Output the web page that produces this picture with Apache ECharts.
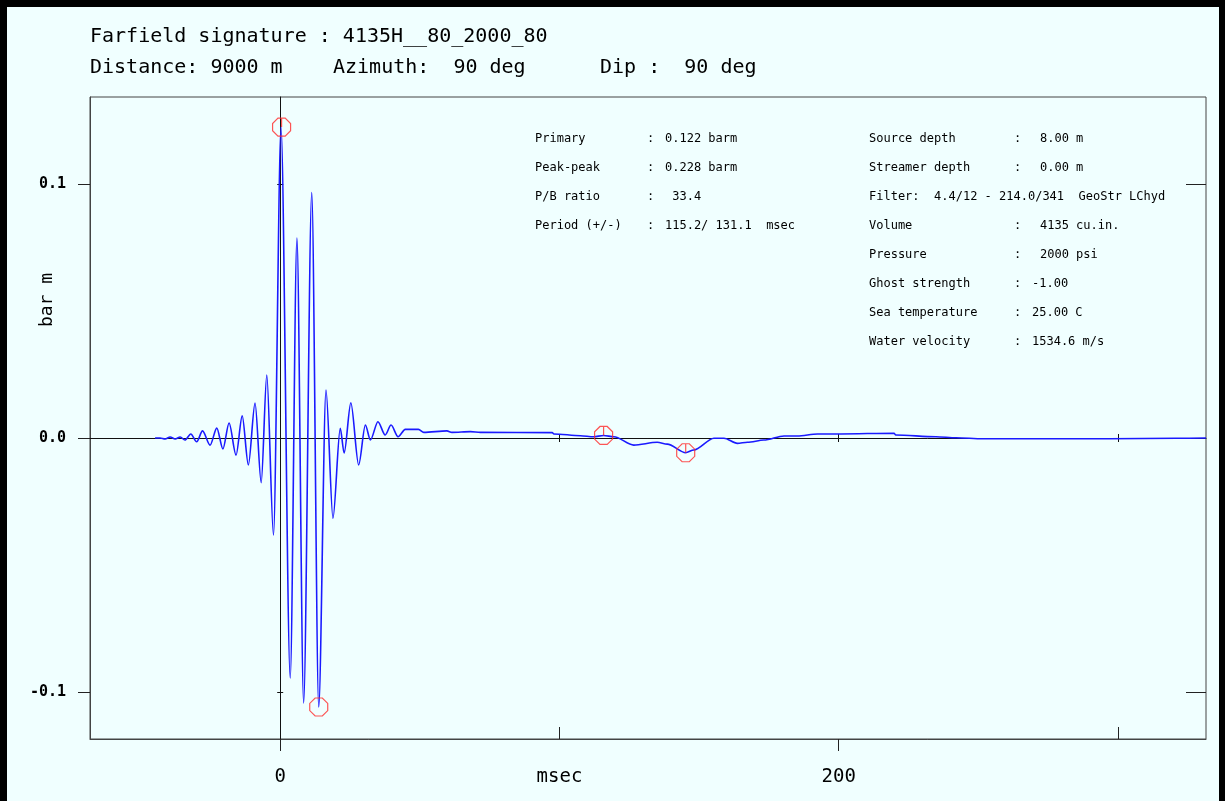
<!DOCTYPE html>
<html>
<head>
<meta charset="utf-8">
<script src="https://cdn.jsdelivr.net/npm/echarts@6/dist/echarts.min.js"></script>
<style>
  html, body { margin: 0; padding: 0; background: #F0FFFF; }
  #chart { width: 1225px; height: 801px; }
</style>
</head>
<body>
<div id="chart"></div>
<script>
// ---------------- DATA ----------------
const titleLine1 = 'Farfield signature : 4135H__80_2000_80';
const titleParts2 = ['Distance: 9000 m', 'Azimuth:  90 deg', 'Dip :  90 deg'];

// Waveform: time (msec) and amplitude (bar m)
const timeMs = [
  -44.8, -43.0, -41.2, -39.4, -37.6, -35.8, -34.1, -32.0, -29.9, -27.8,
  -25.1, -22.7, -20.5, -18.3, -15.8, -13.6, -11.4, -9.0, -6.8, -4.8,
  -2.4, 0.3, 3.6, 6.0, 8.4, 11.3, 13.8, 16.4, 18.9, 21.5,
  22.9, 25.3, 28.1, 30.5, 32.3, 35.0, 37.6, 39.7, 42.2, 44.8,
  49.5, 51.4, 59.7, 61.5, 68.1, 71.7, 97.4, 98.0, 107.5, 112.2,
  115.8, 119.5, 126.6, 135.0, 138.6, 145.2, 148.1, 155.3, 158.9, 163.7,
  167.3, 173.2, 180.4, 185.2, 192.4, 200.7, 219.8, 220.4, 234.8, 242.0,
  251.6, 269.9, 296.8, 320.8, 331.5
];
const amplitude = [
  0.0, 0.0, -0.0004, 0.0004, -0.0004, 0.0004, -0.0008, 0.0016, -0.0015, 0.0028,
  -0.0028, 0.0039, -0.0043, 0.0059, -0.0067, 0.0087, -0.0106, 0.0138, -0.0176, 0.0248,
  -0.0382, 0.1224, -0.0945, 0.0787, -0.1043, 0.0966, -0.1059, 0.0189, -0.0316, 0.0038,
  -0.0059, 0.0139, -0.0106, 0.0051, -0.0008, 0.0064, 0.0012, 0.0051, 0.0005, 0.0034,
  0.0034, 0.0022, 0.0028, 0.0022, 0.0025, 0.0022, 0.0021, 0.0016, 0.0009, 0.0005,
  0.0010, 0.0005, -0.0028, -0.0017, -0.0024, -0.0058, -0.0047, -0.0001, -0.0001, -0.0021,
  -0.0017, -0.0008, 0.0008, 0.0008, 0.0016, 0.0016, 0.0019, 0.0012, 0.0005, 0.0001,
  -0.0003, -0.0003, -0.0003, -0.0001, 0.0
];

// Red picked-point markers
const markerTimes  = [0.5, 13.8, 115.8, 145.2];
const markerValues = [0.1224, -0.1059, 0.0010, -0.0058];
const markerStem   = [true, false, true, true];

// Axis ranges & ticks
const X_MIN = -68.1, X_MAX = 331.5;
const Y_MIN = -0.1185, Y_MAX = 0.13425;
const xLabelValues = [0, 100, 200];
const xLabelTexts  = ['0', 'msec', '200'];
const xMajorTicks  = [0, 200];
const xMinorTicks  = [100, 300];
const zeroLineTicks = [100, 200, 300];
const yTickValues  = [-0.1, 0, 0.1];
const yTickLabels  = ['-0.1', '0.0', '0.1'];
const yRightTicks  = [-0.1, 0.1];
const yName = 'bar m';

// Info block
const leftInfoLabels = ['Primary', 'Peak-peak', 'P/B ratio', 'Period (+/-)'];
const leftInfoValues = ['0.122 barm', '0.228 barm', ' 33.4', '115.2/ 131.1  msec'];
const rightInfoLabels = ['Source depth', 'Streamer depth', 'Filter:  4.4/12 - 214.0/341  GeoStr LChyd',
  'Volume', 'Pressure', 'Ghost strength', 'Sea temperature', 'Water velocity'];
const rightInfoValues = ['8.00 m', '0.00 m', null, '4135 cu.in.', '2000 psi', '-1.00', '25.00 C', '1534.6 m/s'];

// ---------------- CHART ----------------
const chart = echarts.init(document.getElementById('chart'), null, { renderer: 'canvas' });

const MONO = '"DejaVu Sans Mono", "Liberation Mono", monospace';
const lineData = timeMs.map((t, i) => [t, amplitude[i]]);

const octStem = 'path://M3,0L7,0L10,3L10,7L7,10L3,10L0,7L0,3ZM5,0L5,5';
const oct = 'path://M3,0L7,0L10,3L10,7L7,10L3,10L0,7L0,3Z';
const markerData = markerTimes.map((t, i) => ({
  value: [t, markerValues[i]],
  symbol: markerStem[i] ? octStem : oct
}));

function txt(x, y, text, font, extra) {
  return Object.assign({
    type: 'text', x: x, y: y, silent: true,
    style: {
      text: text, font: font, fill: '#000',
      textAlign: 'left', textVerticalAlign: 'middle',
      align: 'left', verticalAlign: 'middle'
    }
  }, extra || {});
}

const graphics = [];
// outer black frame (left, top, right)
graphics.push({ type: 'rect', silent: true, z: 100, shape: { x: 0, y: 0, width: 7, height: 801 }, style: { fill: '#000' } });
graphics.push({ type: 'rect', silent: true, z: 100, shape: { x: 0, y: 0, width: 1225, height: 7 }, style: { fill: '#000' } });
graphics.push({ type: 'rect', silent: true, z: 100, shape: { x: 1219, y: 0, width: 6, height: 801 }, style: { fill: '#000' } });
// titles
const TITLE_FONT = '20px ' + MONO;
graphics.push(txt(90, 37, titleLine1, TITLE_FONT));
const titleX2 = [90, 333, 600];
titleParts2.forEach((s, i) => graphics.push(txt(titleX2[i], 68, s, TITLE_FONT)));
// y name
graphics.push({
  type: 'text', x: 47, y: 300, rotation: Math.PI / 2, silent: true,
  style: { text: yName, font: '18px ' + MONO, fill: '#000',
    textAlign: 'center', textVerticalAlign: 'middle', align: 'center', verticalAlign: 'middle' }
});
// info blocks
const INFO_FONT = '12px ' + MONO;
const rowY0 = 139, rowDY = 29;
leftInfoLabels.forEach((s, i) => {
  const y = rowY0 + i * rowDY;
  graphics.push(txt(535, y, s, INFO_FONT));
  graphics.push(txt(647, y, ':', INFO_FONT));
  graphics.push(txt(665, y, leftInfoValues[i], INFO_FONT));
});
const rightValueX = [1040, 1040, null, 1040, 1040, 1032, 1032, 1032];
rightInfoLabels.forEach((s, i) => {
  const y = rowY0 + i * rowDY;
  graphics.push(txt(869, y, s, INFO_FONT));
  if (rightInfoValues[i] !== null) {
    graphics.push(txt(1014, y, ':', INFO_FONT));
    graphics.push(txt(rightValueX[i], y, rightInfoValues[i], INFO_FONT));
  }
});

function lookup(values, texts, v) {
  for (let i = 0; i < values.length; i++) {
    if (Math.abs(values[i] - v) < 1e-9) return texts[i];
  }
  return '';
}

const baseX = { type: 'value', min: X_MIN, max: X_MAX, splitLine: { show: false } };
const baseY = { type: 'value', min: Y_MIN, max: Y_MAX, splitLine: { show: false } };

const option = {
  animation: false,
  backgroundColor: '#F0FFFF',
  grid: {
    left: 90, right: 19, top: 97, bottom: 62,
    show: true, borderColor: '#444', borderWidth: 1, backgroundColor: 'transparent'
  },
  xAxis: [
    Object.assign({}, baseX, {
      position: 'bottom',
      axisLine: { show: true, onZero: false, lineStyle: { color: '#444', width: 1 } },
      axisTick: { show: true, customValues: xMajorTicks, inside: false, length: 12, lineStyle: { color: '#222', width: 1 } },
      axisLabel: {
        show: true, customValues: xLabelValues, margin: 29,
        formatter: v => lookup(xLabelValues, xLabelTexts, v),
        fontFamily: MONO, fontSize: 19, color: '#000'
      }
    }),
    Object.assign({}, baseX, {
      position: 'bottom',
      axisLine: { show: false, onZero: false },
      axisTick: { show: true, customValues: xMinorTicks, inside: true, length: 12, lineStyle: { color: '#222', width: 1 } },
      axisLabel: { show: false }
    }),
    Object.assign({}, baseX, {
      position: 'bottom',
      axisLine: { show: true, onZero: true, lineStyle: { color: '#111', width: 1 } },
      axisTick: { show: true, customValues: zeroLineTicks, inside: false, length: 4, lineStyle: { color: '#111', width: 1 } },
      axisLabel: { show: false }
    }),
    Object.assign({}, baseX, {
      position: 'bottom',
      axisLine: { show: false, onZero: true },
      axisTick: { show: true, customValues: zeroLineTicks, inside: true, length: 4, lineStyle: { color: '#111', width: 1 } },
      axisLabel: { show: false }
    })
  ],
  yAxis: [
    Object.assign({}, baseY, {
      position: 'left',
      axisLine: { show: true, onZero: false, lineStyle: { color: '#444', width: 1 } },
      axisTick: { show: true, customValues: yTickValues, inside: false, length: 12, lineStyle: { color: '#222', width: 1 } },
      axisLabel: {
        show: true, customValues: yTickValues, margin: 24,
        formatter: v => lookup(yTickValues, yTickLabels, v),
        fontFamily: MONO, fontSize: 15, fontWeight: 'bold', color: '#000'
      }
    }),
    Object.assign({}, baseY, {
      position: 'right',
      axisLine: { show: false, onZero: false },
      axisTick: { show: true, customValues: yRightTicks, inside: true, length: 20, lineStyle: { color: '#222', width: 1 } },
      axisLabel: { show: false }
    }),
    Object.assign({}, baseY, {
      position: 'left',
      axisLine: { show: true, onZero: true, lineStyle: { color: '#111', width: 1 } },
      axisTick: { show: true, customValues: yRightTicks, inside: false, length: 3, lineStyle: { color: '#111', width: 1 } },
      axisLabel: { show: false }
    }),
    Object.assign({}, baseY, {
      position: 'left',
      axisLine: { show: false, onZero: true },
      axisTick: { show: true, customValues: yRightTicks, inside: true, length: 3, lineStyle: { color: '#111', width: 1 } },
      axisLabel: { show: false }
    })
  ],
  series: [
    {
      type: 'line', xAxisIndex: 0, yAxisIndex: 0,
      data: lineData, showSymbol: false, symbol: 'none',
      smooth: 0.3, smoothMonotone: 'x',
      lineStyle: { color: '#1a1aff', width: 1.6 },
      z: 3
    },
    {
      type: 'scatter', xAxisIndex: 0, yAxisIndex: 0,
      data: markerData, symbolSize: 18,
      itemStyle: { color: 'rgba(0,0,0,0)', borderColor: '#ff2a2a', borderWidth: 1.2 },
      z: 4
    }
  ],
  graphic: graphics
};

chart.setOption(option);
</script>
</body>
</html>
